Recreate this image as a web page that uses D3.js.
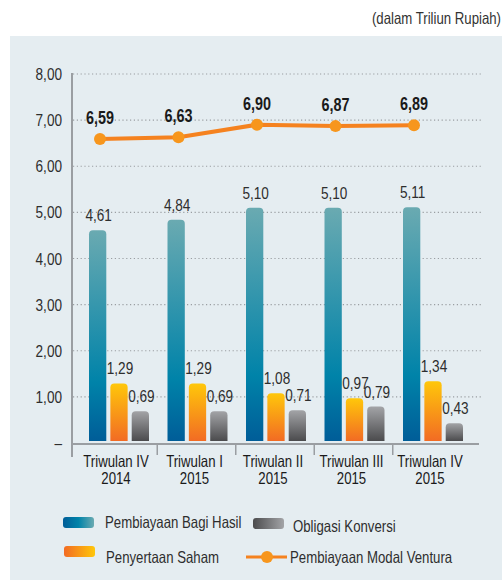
<!DOCTYPE html>
<html>
<head>
<meta charset="utf-8">
<script src="https://cdn.jsdelivr.net/npm/d3@7"></script>
<style>
  body { margin: 0; background: #fff; }
  svg text { font-family: "Liberation Sans", Arial, sans-serif; }
</style>
</head>
<body>
<div id="chart"></div>
<script>
// data
var quarters = ["Triwulan IV|2014", "Triwulan I|2015", "Triwulan II|2015", "Triwulan III|2015", "Triwulan IV|2015"];
var bagiHasil = [4.61, 4.84, 5.10, 5.10, 5.11];
var penyertaanSaham = [1.29, 1.29, 1.08, 0.97, 1.34];
var obligasiKonversi = [0.69, 0.69, 0.71, 0.79, 0.43];
var modalVentura = [6.59, 6.63, 6.90, 6.87, 6.89];
var yTicks = [0, 1, 2, 3, 4, 5, 6, 7, 8];

var width = 504, height = 583;
var narrow = 0.8; // squeeze text to look like a condensed face
var fmt = function (v) { return v.toFixed(2).replace(".", ","); };
var at = function (px, py, k) {
  return "translate(" + px + "," + py + ") scale(" + (k || narrow) + ",1)";
};

var svg = d3.select("#chart").append("svg")
    .attr("width", width)
    .attr("height", height);

var defs = svg.append("defs");
function grad(id, stops, horizontal) {
  var g = defs.append("linearGradient").attr("id", id)
      .attr("x1", 0).attr("y1", 0)
      .attr("x2", horizontal ? 1 : 0).attr("y2", horizontal ? 0 : 1);
  stops.forEach(function (s) {
    g.append("stop").attr("offset", s[0]).attr("stop-color", s[1]);
  });
}
grad("gBlue", [[0, "#6aaab1"], [0.72, "#0083a9"], [1, "#005d98"]]);
grad("gOrange", [[0, "#ffc70a"], [1, "#f26b24"]]);
grad("gGrey", [[0, "#a3a4a7"], [1, "#4b4b4d"]]);
grad("gBlueL", [[0, "#005d98"], [0.5, "#0083a9"], [1, "#6aaab1"]], true);
grad("gOrangeL", [[0, "#f26b24"], [1, "#ffc70a"]], true);
grad("gGreyL", [[0, "#4b4b4d"], [1, "#a3a4a7"]], true);

// title + panel
svg.append("text")
    .attr("transform", at(501, 24))
    .attr("text-anchor", "end")
    .style("font-size", "16.5px")
    .style("fill", "#333")
    .text("(dalam Triliun Rupiah)");

svg.append("rect")
    .attr("x", 10).attr("y", 36)
    .attr("width", 492).attr("height", 544)
    .attr("fill", "#e5edf1");

// scales
var x = d3.scaleBand().domain(quarters).range([79.75, 472.25]);
var xs = d3.scaleBand().domain(["bagi", "saham", "obligasi"])
    .range([-30, 30]).paddingInner(0.19);
var y = d3.scaleLinear().domain([0, 8]).range([443, 74]);
var mid = function (q) { return x(q) + x.bandwidth() / 2; };

var series = [
  {key: "bagi", values: bagiHasil, fill: "url(#gBlue)"},
  {key: "saham", values: penyertaanSaham, fill: "url(#gOrange)"},
  {key: "obligasi", values: obligasiKonversi, fill: "url(#gGrey)"}
];

// grid
svg.append("g").selectAll("line")
    .data(yTicks.filter(function (d) { return d > 0; }))
    .enter().append("line")
    .attr("x1", 73).attr("x2", 481)
    .attr("y1", function (d) { return y(d); })
    .attr("y2", function (d) { return y(d); })
    .attr("stroke", "#9a9ea2")
    .attr("stroke-width", 1.2)
    .attr("stroke-dasharray", "1.2,2.6");

// y tick labels
svg.append("g").selectAll("text")
    .data(yTicks)
    .enter().append("text")
    .attr("transform", function (d) { return at(62, y(d) + 6); })
    .attr("text-anchor", "end")
    .style("font-size", "17px")
    .style("fill", "#2e2e2e")
    .text(function (d) { return d === 0 ? "–" : fmt(d); });

// bars
function barPath(x0, w, top, bottom, r) {
  r = Math.min(r, (bottom - top), w / 2);
  return "M" + x0 + "," + bottom +
      "V" + (top + r) +
      "Q" + x0 + "," + top + " " + (x0 + r) + "," + top +
      "H" + (x0 + w - r) +
      "Q" + (x0 + w) + "," + top + " " + (x0 + w) + "," + (top + r) +
      "V" + bottom + "Z";
}

series.forEach(function (s) {
  var g = svg.append("g").attr("class", "bars " + s.key);
  g.selectAll("path")
      .data(s.values)
      .enter().append("path")
      .attr("d", function (d, i) {
        return barPath(mid(quarters[i]) + xs(s.key), xs.bandwidth(), y(d), y(0) - 2, 4);
      })
      .attr("fill", s.fill);
  g.selectAll("text")
      .data(s.values)
      .enter().append("text")
      .attr("transform", function (d, i) {
        return at(mid(quarters[i]) + xs(s.key) + xs.bandwidth() / 2 + 1, y(d) - 9);
      })
      .attr("text-anchor", "middle")
      .style("font-size", "17px")
      .style("fill", "#2e2e2e")
      .text(fmt);
});

// axes
svg.append("line")
    .attr("x1", 72).attr("x2", 72)
    .attr("y1", 73).attr("y2", 457)
    .attr("stroke", "#9a9ea2").attr("stroke-width", 2);
svg.append("line")
    .attr("x1", 72).attr("x2", 479)
    .attr("y1", 444).attr("y2", 444)
    .attr("stroke", "#9a9ea2").attr("stroke-width", 2);
svg.append("g").selectAll("line")
    .data(quarters.slice(1))
    .enter().append("line")
    .attr("x1", function (d) { return x(d) - 1; })
    .attr("x2", function (d) { return x(d) - 1; })
    .attr("y1", 444).attr("y2", 455)
    .attr("stroke", "#9a9ea2").attr("stroke-width", 1.5);

// category labels, two lines each
[0, 1].forEach(function (row) {
  svg.append("g").selectAll("text")
      .data(quarters)
      .enter().append("text")
      .attr("transform", function (d) { return at(mid(d) - 3, 467 + row * 16.5); })
      .attr("text-anchor", "middle")
      .style("font-size", "16.5px")
      .style("fill", "#1a1a1a")
      .text(function (d) { return d.split("|")[row]; });
});

// line
var lx = function (d, i) { return mid(quarters[i]) - 19; };
var line = d3.line().x(lx).y(function (d) { return y(d); });
svg.append("path")
    .datum(modalVentura)
    .attr("d", line)
    .attr("fill", "none")
    .attr("stroke", "#f5821f")
    .attr("stroke-width", 4);
svg.append("g").selectAll("circle")
    .data(modalVentura)
    .enter().append("circle")
    .attr("cx", lx)
    .attr("cy", function (d) { return y(d); })
    .attr("r", 6)
    .attr("fill", "#f7961d");
svg.append("g").selectAll("text")
    .data(modalVentura)
    .enter().append("text")
    .attr("transform", function (d, i) { return at(lx(d, i), y(d) - 15); })
    .attr("text-anchor", "middle")
    .style("font-size", "18px")
    .style("font-weight", "bold")
    .style("fill", "#1a1a1a")
    .text(fmt);

// legend
var legend = svg.append("g").attr("class", "legend");
var legItems = [
  {label: "Pembiayaan Bagi Hasil", fill: "url(#gBlueL)", x: 63, y: 517, tx: 105, ty: 528},
  {label: "Obligasi Konversi", fill: "url(#gGreyL)", x: 253, y: 518, tx: 293, ty: 532},
  {label: "Penyertaan Saham", fill: "url(#gOrangeL)", x: 64, y: 546, tx: 106, ty: 563}
];
legItems.forEach(function (d) {
  legend.append("rect")
      .attr("x", d.x).attr("y", d.y)
      .attr("width", 31).attr("height", 11)
      .attr("rx", 3)
      .attr("fill", d.fill);
  legend.append("text")
      .attr("transform", at(d.tx, d.ty))
      .style("font-size", "16.5px")
      .style("fill", "#2e2e2e")
      .text(d.label);
});
legend.append("line")
    .attr("x1", 246).attr("x2", 287)
    .attr("y1", 557).attr("y2", 557)
    .attr("stroke", "#f5821f").attr("stroke-width", 3);
legend.append("circle")
    .attr("cx", 267).attr("cy", 557).attr("r", 6)
    .attr("fill", "#f7961d");
legend.append("text")
    .attr("transform", at(290, 563))
    .style("font-size", "16.5px")
    .style("fill", "#2e2e2e")
    .text("Pembiayaan Modal Ventura");
</script>
</body>
</html>
